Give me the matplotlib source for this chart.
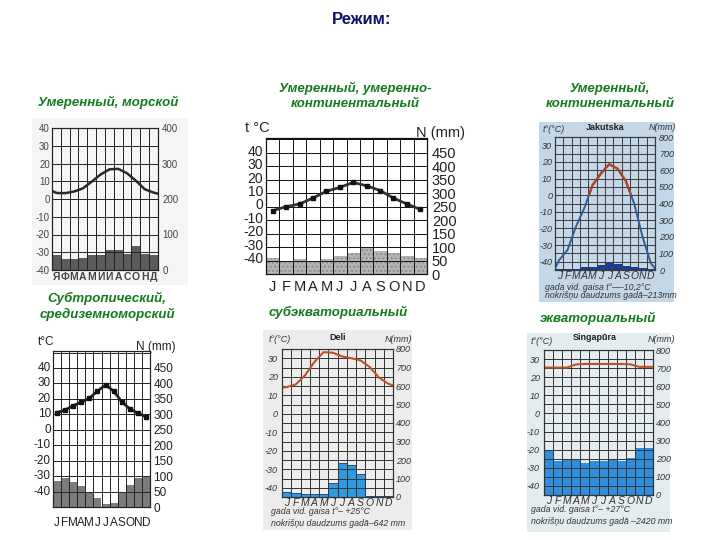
import numpy as np
import matplotlib
matplotlib.use('Agg')
import matplotlib.pyplot as plt

plt.rcParams['font.family'] = ['Liberation Sans', 'DejaVu Sans']

W, H = 720, 540

# ---- data ----
months_ru = list('ЯФМАМИИАСОНД')
months_en = list('JFMAMJJASOND')

# temperate maritime
t_mar = [3.4, 3.3, 4.2, 6.0, 9.8, 13.8, 16.7, 17.0, 14.5, 10.3, 5.5, 3.6]
t_mar_edges = [4.6, 3.0]
p_mar = [41, 32, 32, 35, 41, 41, 57, 57, 46, 68, 46, 41]

# temperate, moderately continental
t_mod = [-5, -2, 0, 4.4, 9.4, 12.3, 16, 13.5, 10, 4.4, 0, -4]
p_mod = [60, 49, 55, 47, 55, 68, 78, 96, 86, 78, 66, 58]

# Jakutska
t_jak = [-39, -33, -19, -8, 6, 13, 18.6, 16, 8.5, -5, -25, -41]
t_jak_edges = [-44, -44]
p_jak = [6, 6, 6, 16, 20, 32, 42, 36, 22, 16, 10, 6]

# subtropical mediterranean
t_med = [10.1, 11.8, 14.6, 16.8, 19.4, 24.1, 28, 24.1, 17.2, 12.5, 9.7, 7.5]
p_med = [85, 94, 80, 68, 44, 28, 11, 14, 44, 72, 94, 96]

# Deli
t_del = [14.4, 15.9, 20.8, 28, 33.3, 33, 31, 30, 28.8, 25.2, 19.5, 16.2]
t_del_edges = [14.1, 15.3]
p_del = [27, 23, 16, 14, 18, 76, 184, 175, 124, 7, 5, 7]

# Singapura
t_sin = [25.3, 25.3, 25.3, 27.0, 27.3, 27.3, 27.3, 27.3, 27.3, 27.1, 25.7, 25.7]
t_sin_edges = [25.3, 25.7]
p_sin = [251, 186, 195, 201, 177, 190, 186, 197, 186, 205, 257, 260]

mx = np.arange(12) + 0.5


def px_rect(x0, y0, x1, y1):
    return [x0 / W, 1 - y1 / H, (x1 - x0) / W, (y1 - y0) / H]


def fig_text(x, y, s, **kw):
    fig.text(x / W, 1 - y / H, s, **kw)


def background(x0, y0, x1, y1, color):
    bg = fig.add_axes(px_rect(x0, y0, x1, y1))
    bg.set_facecolor(color)
    bg.set_xticks([])
    bg.set_yticks([])
    for s in bg.spines.values():
        s.set_visible(False)
    bg.set_zorder(-5)


def panel(rect, tlim, plim, tticks, pticks, pgrid, months, face='white',
          gridc='#222222', fs=7, rfs=None, mfs=7, style='normal', tc='#333333',
          lpad=2, rpad=3, mpad=1, mweight='normal'):
    ax = fig.add_axes(px_rect(*rect))
    ax2 = ax.twinx()
    ax.set_zorder(ax2.get_zorder() + 1)
    ax.patch.set_visible(False)
    ax2.patch.set_facecolor(face)
    ax.set_xlim(0, 12)
    ax.set_ylim(*tlim)
    ax2.set_ylim(*plim)
    ax.set_yticks(tticks)
    ax.set_yticklabels([str(v) for v in tticks], fontsize=fs, style=style, color=tc)
    ax2.set_yticks(pticks)
    ax2.set_yticklabels([str(v) for v in pticks], fontsize=rfs or fs, style=style, color=tc)
    ax.set_xticks(mx)
    ax.set_xticklabels(months, fontsize=mfs, style=style, color=tc, weight=mweight)
    ax.tick_params(axis='y', length=0, pad=lpad)
    ax.tick_params(axis='x', length=0, pad=mpad)
    ax2.tick_params(axis='y', length=0, pad=rpad)
    for a in (ax, ax2):
        for s in a.spines.values():
            s.set_color(gridc)
            s.set_linewidth(0.8)
    for x in range(13):
        ax2.axvline(x, color=gridc, lw=0.7, zorder=3)
    for p in pgrid:
        ax2.axhline(p, color=gridc, lw=0.7, zorder=3)
    return ax, ax2


fig = plt.figure(figsize=(7.2, 5.4), dpi=100)

fig_text(362, 19, 'Режим:', ha='center', va='center', fontsize=12,
         weight='bold', color='#10106a')

green = '#127a1c'
lab = dict(ha='center', va='center', fontsize=9.5, weight='bold', style='italic', color=green)
fig_text(108, 102, 'Умеренный, морской', **lab)
fig_text(355, 88, 'Умеренный, умеренно-', **lab)
fig_text(355, 104, 'континентальный', **lab)
fig_text(610, 88, 'Умеренный,', **lab)
fig_text(610, 104, 'континентальный', **lab)
fig_text(107, 298, 'Субтропический,', **lab)
fig_text(107, 314, 'средиземноморский', **lab)
fig_text(338, 312, 'субэкваториальный', **lab)
fig_text(598, 318, 'экваториальный', **lab)

# ---- 1: temperate maritime ----
background(32, 118, 188, 285, '#f5f5f5')
ax, ax2 = panel((52, 128, 158, 270), (-40, 40), (0, 400),
                list(range(40, -41, -10)), list(range(0, 401, 100)),
                range(0, 401, 50), months_ru, face='white', gridc='#222222',
                fs=7, mfs=7.5, tc='#444444', lpad=1.5, rpad=3, mpad=1.5,
                mweight='bold')
ax2.bar(mx, p_mar, width=1, color='#5c5c5c', zorder=1)
ax.plot([0] + list(mx) + [12], [t_mar_edges[0]] + t_mar + [t_mar_edges[1]],
        color='#2a2a2a', lw=1.8, solid_joinstyle='round')

# ---- 2: temperate moderately continental ----
ax, ax2 = panel((266, 138, 427, 274), (-52, 49), (0, 505),
                list(range(40, -41, -10)), list(range(0, 451, 50)),
                range(0, 501, 50), months_en, fs=10, rfs=10.5, mfs=10.5,
                tc='#222222', gridc='#111111', lpad=2, rpad=3.5, mpad=4)
ax2.bar(mx, p_mod, width=1, color='#b4b4b4', hatch='....', edgecolor='#8c8c8c',
        lw=0, zorder=1)
ax.plot(mx, t_mod, color='#333333', lw=2, marker='s', ms=3.5, mfc='#111111',
        mec='#111111')
fig_text(257, 128, 't °C', ha='center', va='center', fontsize=10.5, color='#222222')
fig_text(440, 133, 'N (mm)', ha='center', va='center', fontsize=10.5, color='#222222')

# ---- 3: Jakutska ----
background(539, 122, 674, 302, '#c3d7e6')
ax, ax2 = panel((555, 137, 655, 270), (-45, 35), (0, 800),
                list(range(30, -41, -10)), list(range(0, 801, 100)),
                range(0, 801, 50), months_en, face='#f8f3a8', gridc='#3a3a3a',
                fs=6.5, mfs=7.5, style='italic', lpad=2, rpad=3, mpad=0.8)
ax2.bar(mx, p_jak, width=1, color='#1c3f94', zorder=1)
xj = [0] + list(mx) + [12]
yj = [t_jak_edges[0]] + t_jak + [t_jak_edges[1]]
ax.plot(xj, yj, color='#2f5f95', lw=1.4, solid_joinstyle='round')
warm, = ax.plot(xj, yj, color='#b5401f', lw=1.6, solid_joinstyle='round')
clip = plt.Rectangle((0, 0), 12, 40, transform=ax.transData)
warm.set_clip_path(clip)
fig_text(605, 127, 'Jakutska', ha='center', va='center', fontsize=6.5,
         weight='bold', color='#222222')
fig_text(554, 129, 't°(°C)', ha='center', va='center', fontsize=6.5,
         style='italic', color='#333333')
fig_text(662, 128, 'N(mm)', ha='center', va='center', fontsize=6.5,
         style='italic', color='#333333')
fig_text(545, 287, 'gada vid. gaisa t°—-10,2°C', ha='left', va='center',
         fontsize=6.3, style='italic', color='#333333')
fig_text(545, 295, 'nokrišņu daudzums gadā–213mm', ha='left', va='center',
         fontsize=6.3, style='italic', color='#333333')

# ---- 4: subtropical mediterranean ----
ax, ax2 = panel((53, 351, 150, 507), (-51, 50), (0, 505),
                list(range(40, -41, -10)), list(range(0, 451, 50)),
                range(0, 501, 50), months_en, fs=8.5, mfs=8.5, tc='#222222',
                gridc='#222222', lpad=1.5, rpad=2.5, mpad=7)
ax2.bar(mx, p_med, width=1, color='#7c7c7c', zorder=1)
ax.plot(mx, t_med, color='#222222', lw=2, marker='s', ms=3, mfc='#111111',
        mec='#111111')
fig_text(46, 342, 't°C', ha='center', va='center', fontsize=8.5, color='#222222')
fig_text(156, 347, 'N (mm)', ha='center', va='center', fontsize=8.5, color='#222222')

# ---- 5: Deli ----
background(263, 330, 412, 530, '#ececec')
ax, ax2 = panel((282, 349, 393, 497), (-45, 35), (0, 800),
                list(range(30, -41, -10)), list(range(0, 801, 100)),
                range(0, 801, 50), months_en, face='#fcf7de', gridc='#333333',
                fs=6.5, mfs=7.5, style='italic', lpad=3, rpad=2, mpad=0.8)
ax2.bar(mx, p_del, width=1, color='#2e9be0', edgecolor='#1a3a6a', lw=0.6, zorder=1)
ax.plot([0] + list(mx) + [12], [t_del_edges[0]] + t_del + [t_del_edges[1]],
        color='#bf5128', lw=1.5, solid_joinstyle='round')
fig_text(338, 337, 'Deli', ha='center', va='center', fontsize=6.5,
         weight='bold', color='#222222')
fig_text(280, 340, 't°(°C)', ha='center', va='center', fontsize=6.5,
         style='italic', color='#333333')
fig_text(398, 340, 'N(mm)', ha='center', va='center', fontsize=6.5,
         style='italic', color='#333333')
fig_text(271, 512, 'gada vid. gaisa t°– +25°C', ha='left', va='center',
         fontsize=6.3, style='italic', color='#333333')
fig_text(271, 523, 'nokrišņu daudzums gadā–642 mm', ha='left', va='center',
         fontsize=6.3, style='italic', color='#333333')

# ---- 6: Singapura ----
background(527, 333, 670, 532, '#e4ecf0')
ax, ax2 = panel((544, 350, 653, 495), (-45, 35), (0, 800),
                list(range(30, -41, -10)), list(range(0, 801, 100)),
                range(0, 801, 50), months_en, face='#fcf7de', gridc='#333333',
                fs=6.5, mfs=7.5, style='italic', lpad=3, rpad=2, mpad=0.8)
ax2.bar(mx, p_sin, width=1, color='#2f8fdc', zorder=1)
ax.plot([0] + list(mx) + [12], [t_sin_edges[0]] + t_sin + [t_sin_edges[1]],
        color='#bf5128', lw=1.5)
fig_text(595, 338, 'Singapūra', ha='center', va='center', fontsize=6.5,
         weight='bold', color='#222222')
fig_text(542, 342, 't°(°C)', ha='center', va='center', fontsize=6.5,
         style='italic', color='#333333')
fig_text(661, 340, 'N(mm)', ha='center', va='center', fontsize=6.5,
         style='italic', color='#333333')
fig_text(531, 510, 'gada vid. gaisa t°– +27°C', ha='left', va='center',
         fontsize=6.3, style='italic', color='#333333')
fig_text(531, 521, 'nokrišņu daudzums gadā –2420 mm', ha='left', va='center',
         fontsize=6.3, style='italic', color='#333333')

fig.savefig('out.png', dpi=100)
